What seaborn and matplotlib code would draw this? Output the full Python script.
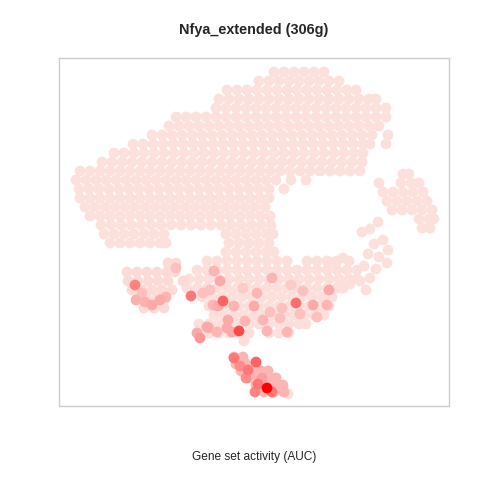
import numpy as np
import pandas as pd
import matplotlib
matplotlib.use("Agg")
import matplotlib.pyplot as plt
from matplotlib.colors import LinearSegmentedColormap
import seaborn as sns

# t-SNE embedding (screen-like units, y grows downwards)
# each row: (y, [x positions of cells along that row])
arch_rows = [
    (72, [274, 284, 294, 304, 314, 324]),
    (81, [259, 269, 279, 289, 299, 309, 319, 329, 339]),
    (90, [227, 237, 247, 257, 267, 277, 287, 297, 307, 317, 327, 337, 347, 356]),
    (99, [219, 229, 239, 249, 259, 269, 279, 289, 299, 309, 319, 329, 339, 349, 359, 369, 376]),
    (108, [216, 226, 236, 246, 256, 266, 276, 286, 296, 306, 316, 326, 336, 346, 356, 366, 376, 386]),
    (117, [176, 186, 196, 206, 216, 226, 236, 246, 256, 266, 276, 286, 296, 306, 316, 326, 336,
           346, 356, 366, 376, 386]),
    (126, [169, 179, 189, 199, 209, 219, 229, 239, 249, 259, 269, 279, 289, 299, 309, 319, 329,
           339, 349, 359, 369, 379]),
    (135, [152, 162, 172, 182, 192, 202, 212, 222, 232, 242, 252, 262, 272, 282, 292, 302, 312,
           322, 332, 342, 352, 362, 372, 388]),
    (144, [133, 143, 153, 163, 173, 183, 193, 203, 213, 223, 233, 243, 253, 263, 273, 283, 293,
           303, 313, 323, 333, 343, 353, 363, 370, 386]),
    (153, [114, 124, 134, 144, 154, 164, 174, 184, 194, 204, 214, 224, 234, 244, 254, 264, 274,
           284, 294, 304, 314, 324, 334, 344, 354, 363]),
    (162, [102, 112, 122, 132, 142, 152, 162, 172, 182, 192, 202, 212, 222, 232, 242, 252, 262,
           272, 282, 292, 302, 312, 322, 332, 342, 352, 362]),
    (171, [80, 90, 100, 110, 120, 130, 140, 150, 160, 170, 180, 190, 200, 210, 220, 230, 240, 250,
           260, 270, 280, 290, 300, 310, 320, 330, 340, 350, 360]),
    (180, [76, 86, 96, 106, 116, 126, 136, 146, 156, 166, 176, 186, 196, 206, 216, 226, 236, 246,
           256, 266, 276, 291, 306]),
    (189, [79, 89, 99, 109, 119, 129, 139, 149, 159, 169, 179, 189, 199, 209, 219, 229, 239, 249,
           259, 269, 284]),
    (198, [80, 90, 100, 110, 120, 130, 140, 150, 160, 170, 180, 190, 200, 210, 220, 230, 240, 250,
           260, 269]),
    (207, [85, 95, 105, 115, 125, 135, 145, 155, 165, 175, 185, 195, 205, 215, 225, 235, 245, 255, 265]),
    (216, [90, 100, 110, 120, 130, 140, 150, 160, 170, 180, 190, 200, 210, 220, 230, 240, 250, 260, 270]),
    (225, [101, 111, 121, 131, 141, 151, 161, 171, 181, 191, 201, 211, 221, 231, 241, 251, 261, 271]),
    (234, [104, 114, 124, 134, 144, 154, 164, 226, 236, 246, 256, 266, 273]),
    (243, [110, 120, 130, 140, 150, 160, 166, 229, 239, 249, 259, 269]),
    (252, [226, 236, 246, 256, 266, 274]),
]

middle_rows = [
    (261, [207, 217, 227, 237, 247, 257, 267, 277, 287, 307, 317, 327, 337, 349]),
    (270, [197, 207, 217, 227, 237, 247, 257, 267, 277, 287, 297, 307, 317, 327, 337, 347, 357]),
    (279, [189, 199, 209, 219, 229, 239, 249, 259, 269, 279, 289, 299, 309, 319, 329, 339, 349, 357]),
    (288, [187, 197, 207, 217, 227, 237, 247, 257, 267, 277, 287, 297, 307, 317, 327, 337, 343]),
    (297, [202, 212, 222, 232, 242, 252, 262, 272, 282, 292, 302, 312, 322, 332]),
    (306, [209, 219, 229, 239, 249, 259, 269, 279, 289, 299, 309, 319, 329]),
    (315, [214, 224, 234, 244, 254, 264, 274, 284, 294, 304, 314, 324]),
    (324, [199, 209, 219, 229, 239, 249, 259, 269, 279, 289, 299, 306]),
    (333, [199, 209, 219, 229, 239, 249, 269, 279, 289]),
    (341, [244]),
]

left_rows = [
    (263, [168, 176]),
    (272, [127, 137, 147, 157, 167, 175]),
    (281, [128, 138, 148, 158, 168, 183]),
    (290, [132, 142, 152, 162, 172]),
    (299, [137, 147, 157, 165]),
    (308, [144, 154, 164]),
]

bottom_rows = [
    (357, [234, 243]),
    (364, [236, 246, 256]),
    (371, [241, 251, 261, 268]),
    (378, [248, 258, 268, 276]),
    (385, [256, 266, 276, 283]),
    (392, [264, 274, 284]),
]

right_rows = [
    (174, [403, 409]),
    (183, [379, 401, 411, 419]),
    (192, [383, 393, 403, 413, 423]),
    (201, [387, 397, 407, 417, 427]),
    (210, [392, 402, 412, 422, 432]),
    (219, [419, 429, 434]),
    (228, [422, 430]),
]
chain_x = [378, 370, 362, 383, 374, 388, 368, 379, 387, 364, 376, 370, 360, 350, 342, 334, 343, 366]
chain_y = [222, 229, 232, 240, 244, 250, 254, 257, 263, 266, 269, 278, 281, 284, 287, 262, 258, 290]

# baseline AUC of each cell group
base_auc = {"arch": 0.02, "middle": 0.021, "left": 0.023, "bottom": 0.04, "right": 0.02, "chain": 0.02}

# cells with higher activity (drawn on top)
active_x = [214, 220, 272, 257, 329, 303, 218, 234, 254, 282, 313, 327, 317, 228, 245, 263, 280,
            287, 267, 232, 209, 197, 291, 243, 300, 270, 203, 210, 213, 207, 227, 217, 200,
            191, 223, 296, 239,
            135, 136, 145, 152, 160, 166, 142, 176,
            234, 240, 248, 256, 246, 258, 255, 262, 272, 267, 284, 288, 268, 276]
active_y = [271, 281, 278, 293, 290, 291, 306, 306, 306, 308, 305, 305, 317, 320, 321, 320, 318,
            332, 331, 332, 328, 333, 285, 288, 314, 312, 293, 290, 305, 327, 328, 332, 338,
            296, 301, 303, 331,
            285, 300, 302, 305, 300, 297, 293, 268,
            358, 366, 370, 362, 378, 384, 392, 378, 392, 388, 392, 394, 371, 378]
active_auc = [0.04, 0.045, 0.04, 0.04, 0.045, 0.035, 0.045, 0.04, 0.045, 0.035, 0.045, 0.04, 0.035,
              0.045, 0.04, 0.04, 0.035, 0.04, 0.04, 0.045, 0.04, 0.045, 0.03, 0.03, 0.035, 0.035,
              0.035, 0.035, 0.04, 0.045, 0.045, 0.04, 0.055,
              0.07, 0.08, 0.075, 0.09,
              0.065, 0.042, 0.042, 0.045, 0.045, 0.04, 0.035, 0.035,
              0.07, 0.06, 0.07, 0.08, 0.06, 0.07, 0.065, 0.05, 0.07, 0.12, 0.022, 0.021, 0.03, 0.03]


def rows_to_frame(rows, group):
    xs, ys = [], []
    for y, row in rows:
        xs.extend(row)
        ys.extend([y] * len(row))
    return pd.DataFrame({"tsne1": xs, "tsne2": ys, "auc": base_auc[group]})


cells = pd.concat([
    rows_to_frame(arch_rows, "arch"),
    rows_to_frame(middle_rows, "middle"),
    rows_to_frame(left_rows, "left"),
    rows_to_frame(bottom_rows, "bottom"),
    rows_to_frame(right_rows, "right"),
    pd.DataFrame({"tsne1": chain_x, "tsne2": chain_y, "auc": base_auc["chain"]}),
    pd.DataFrame({"tsne1": active_x, "tsne2": active_y, "auc": active_auc}),
], ignore_index=True)
cells = cells.sort_values("auc", kind="stable")

auc_cmap = LinearSegmentedColormap.from_list(
    "auc", [(0.0, "#FCE0DC"), (0.25, "#FCAAA8"), (0.55, "#FF6E6E"), (1.0, "#FF0000")])

sns.set_style("white")
plt.rcParams["font.family"] = ["Liberation Sans", "DejaVu Sans"]

fig = plt.figure(figsize=(4.8, 4.8), dpi=100)
ax = fig.add_axes([59 / 480, 1 - 406 / 480, 390 / 480, 348 / 480])

sns.scatterplot(data=cells, x="tsne1", y="tsne2", hue="auc", palette=auc_cmap,
                hue_norm=(0.02, 0.12), s=60, linewidth=0, legend=False, ax=ax)

ax.set_xlim(59, 449)
ax.set_ylim(406, 58)
ax.set_xticks([])
ax.set_yticks([])
ax.set_xlabel("")
ax.set_ylabel("")
for sp in ax.spines.values():
    sp.set_color("#CCCCCC")
    sp.set_linewidth(1)

fig.text(254 / 480, 1 - 30 / 480, "Nfya_extended (306g)", ha="center", va="center",
         fontsize=10.4, fontweight="bold")
fig.text(254 / 480, 1 - 457 / 480, "Gene set activity (AUC)", ha="center", va="center",
         fontsize=8.6)

fig.savefig("out.png", dpi=100)
